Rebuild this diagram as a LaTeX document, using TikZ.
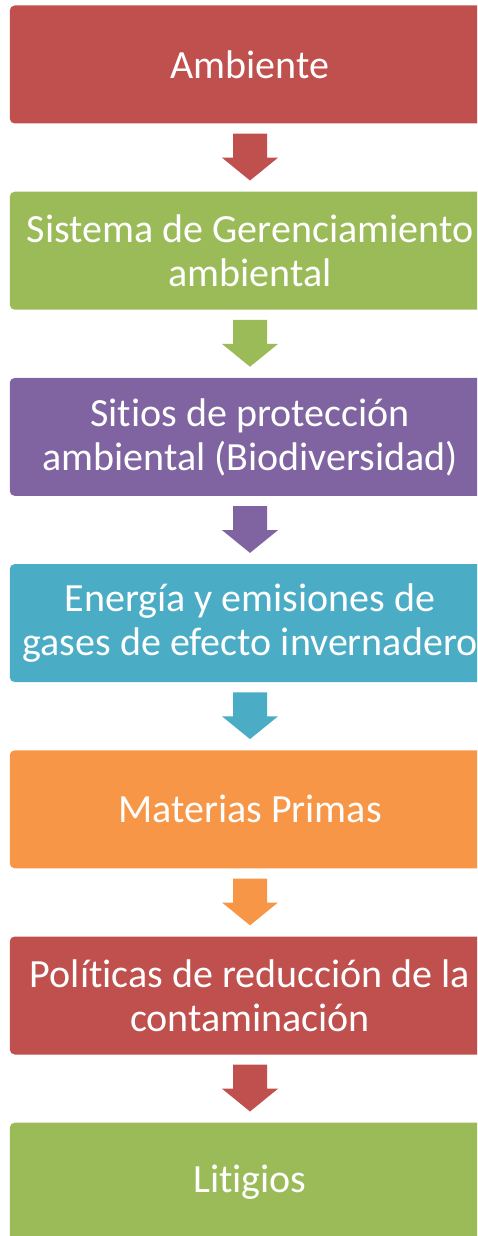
\documentclass[tikz,border=0pt]{standalone}
\usepackage{fontspec}
\setmainfont{Carlito}[Ligatures=NoCommon]
\usetikzlibrary{calc}
\definecolor{cred}{HTML}{C0504D}
\definecolor{cgreen}{HTML}{9BBB59}
\definecolor{cpurple}{HTML}{8064A2}
\definecolor{ccyan}{HTML}{4BACC6}
\definecolor{corange}{HTML}{F79646}
\newcommand\blockarrow[3]{%
  \fill[#3] ($(#1.south)+(-17,10)$) -- ($(#1.south)+(17,10)$) -- ($(#1.south)+(17,34)$)
    -- ($(#1.south)+(28,34)$) -- ($(#2.north)+(0,-11)$) -- ($(#1.south)+(-28,34)$)
    -- ($(#1.south)+(-17,34)$) -- cycle;}
\begin{document}
\begin{tikzpicture}[x=1pt,y=-1pt,
  box/.style={rounded corners=5pt, minimum width=480.5pt, minimum height=118pt,
    text=white, align=center, inner sep=0pt,
    font=\fontsize{40}{44}\selectfont}]
\useasboundingbox (0,0) rectangle (477,1236);
\clip (0,0) rectangle (477,1236);
\node[box, fill=cred]    (b1) at (250,64.5)  {Ambiente};
\node[box, fill=cgreen]  (b2) at (250,250.7) {Sistema de Gerenciamiento\\ambiental};
\node[box, fill=cpurple] (b3) at (250,436.9) {Sitios de protección\\ambiental (Biodiversidad)};
\node[box, fill=ccyan]   (b4) at (250,623.1) {Energía y emisiones de\\gases de efecto invernadero};
\node[box, fill=corange] (b5) at (250,809.3) {Materias Primas};
\node[box, fill=cred]    (b6) at (250,995.5) {Políticas de reducción de la\\contaminación};
\node[box, fill=cgreen]  (b7) at (250,1181.7) {Litigios};
\blockarrow{b1}{b2}{cred}
\blockarrow{b2}{b3}{cgreen}
\blockarrow{b3}{b4}{cpurple}
\blockarrow{b4}{b5}{ccyan}
\blockarrow{b5}{b6}{corange}
\blockarrow{b6}{b7}{cred}
\end{tikzpicture}
\end{document}
